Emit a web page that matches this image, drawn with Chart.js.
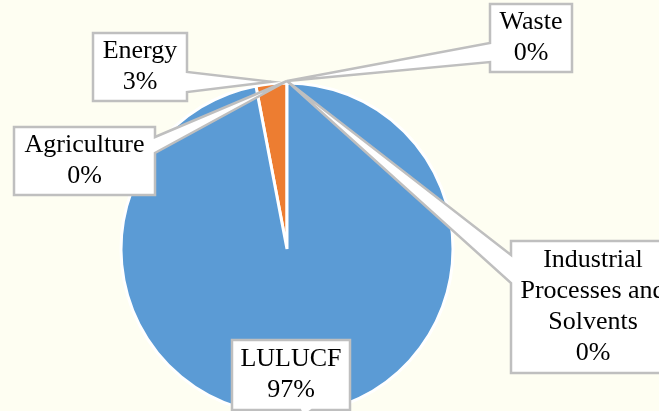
<!DOCTYPE html>
<html>
<head>
<meta charset="utf-8">
<script src="https://cdn.jsdelivr.net/npm/chart.js@4.4.0/dist/chart.umd.min.js"></script>
<style>
  html, body { margin: 0; padding: 0; overflow: hidden; background: #FEFEF2; }
  #wrap { position: relative; width: 659px; height: 440px; }
</style>
</head>
<body>
<div id="wrap"><canvas id="sectorChart"></canvas></div>
<script>
// sector shares, in percent
const sectors = ['Energy', 'Industrial Processes and Solvents', 'Agriculture', 'Waste', 'LULUCF'];
const shares = [3, 0, 0, 0, 97];
const sliceColors = ['#ED7D31', '#A5A5A5', '#FFC000', '#4472C4', '#5B9BD5'];

// how each callout breaks its category name
const labelLines = [['Energy'], ['Industrial', 'Processes and', 'Solvents'], ['Agriculture'], ['Waste'], ['LULUCF']];

// callout boxes: position, size, and the edge the pointer leaves from (a..b along that edge)
const callouts = [
  {x: 93, y: 33, w: 94, h: 68, side: 'right', a: 72, b: 92},
  {x: 511, y: 241, w: 164, h: 132, side: 'left', a: 255, b: 283},
  {x: 14, y: 127, w: 141, h: 68, side: 'right', a: 137, b: 153},
  {x: 490, y: 4, w: 82, h: 68, side: 'left', a: 43, b: 62},
  {x: 232, y: 340, w: 118, h: 70, side: 'bottom', a: 300, b: 312}
];

// draws the Excel-style callouts, pointer tip taken from each arc
const calloutPlugin = {
  id: 'callouts',
  afterDatasetsDraw(chart) {
    const ctx = chart.ctx;
    const meta = chart.getDatasetMeta(0);
    const total = shares.reduce((s, v) => s + v, 0);
    const lineH = 31;
    ctx.save();
    meta.data.forEach((arc, i) => {
      const c = callouts[i];
      const p = arc.getProps(['x', 'y', 'startAngle', 'endAngle', 'outerRadius'], true);
      const mid = (p.startAngle + p.endAngle) / 2;
      const tx = p.x + Math.cos(mid) * (p.outerRadius + 2);
      const ty = p.y + Math.sin(mid) * (p.outerRadius + 2);

      ctx.beginPath();
      ctx.moveTo(c.x, c.y);
      ctx.lineTo(c.x + c.w, c.y);
      if (c.side === 'right') { ctx.lineTo(c.x + c.w, c.a); ctx.lineTo(tx, ty); ctx.lineTo(c.x + c.w, c.b); }
      ctx.lineTo(c.x + c.w, c.y + c.h);
      if (c.side === 'bottom') { ctx.lineTo(c.b, c.y + c.h); ctx.lineTo(tx, ty); ctx.lineTo(c.a, c.y + c.h); }
      ctx.lineTo(c.x, c.y + c.h);
      if (c.side === 'left') { ctx.lineTo(c.x, c.b); ctx.lineTo(tx, ty); ctx.lineTo(c.x, c.a); }
      ctx.closePath();
      ctx.fillStyle = '#FFFFFF';
      ctx.fill();
      ctx.strokeStyle = '#BFBFBF';
      ctx.lineWidth = 2.5;
      ctx.stroke();

      const lines = labelLines[i].concat([Math.round(shares[i] / total * 100) + '%']);
      ctx.fillStyle = '#000000';
      ctx.font = '26px "Liberation Serif", "Times New Roman", serif';
      ctx.textAlign = 'center';
      ctx.textBaseline = 'middle';
      const y0 = c.y + c.h / 2 - (lines.length - 1) * lineH / 2;
      lines.forEach((t, k) => ctx.fillText(t, c.x + c.w / 2, y0 + k * lineH));
    });
    ctx.restore();
  }
};

new Chart(document.getElementById('sectorChart'), {
  type: 'pie',
  data: {
    labels: sectors,
    datasets: [{
      data: shares,
      backgroundColor: sliceColors,
      borderColor: '#FFFFFF',
      borderWidth: 3,
      radius: 166
    }]
  },
  options: {
    responsive: true,
    maintainAspectRatio: false,
    animation: false,
    rotation: -10.8,
    layout: { padding: { left: 121, right: 206, top: 83, bottom: 25 } },
    plugins: {
      legend: { display: false },
      tooltip: { enabled: false }
    }
  },
  plugins: [calloutPlugin]
});
</script>
</body>
</html>
